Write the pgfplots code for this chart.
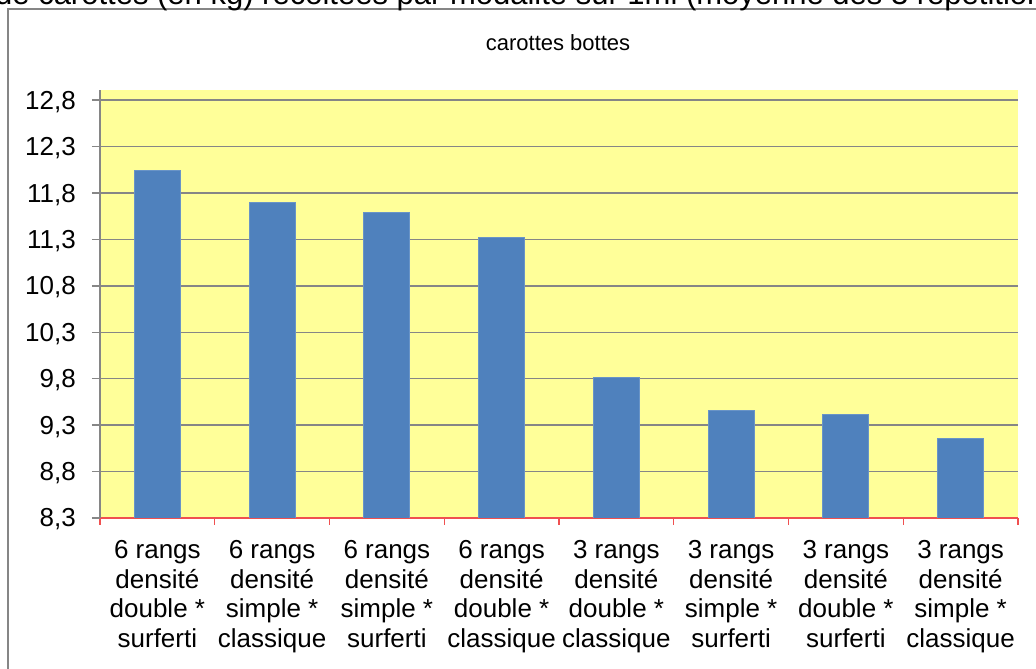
\documentclass[border=0pt]{standalone}
\usepackage{pgfplots}
\pgfplotsset{compat=1.18}
\usepackage{fontspec}
\setmainfont{Liberation Sans}
\definecolor{barblue}{RGB}{79,129,189}
\definecolor{bgyellow}{RGB}{255,255,153}
\definecolor{gridgray}{RGB}{134,134,134}
\definecolor{axred}{RGB}{240,80,80}
\begin{document}
\begin{tikzpicture}
\useasboundingbox (0,0) rectangle (1036bp,669bp);
\fill[white] (0,0) rectangle (1036bp,669bp);
% outer frame (partly cut)
\draw[gridgray, line width=2bp] (7.5bp,-5bp) -- (7.5bp,660bp) -- (1045bp,660bp);
% cut-off main title
\node[anchor=base west, inner sep=0pt, font=\fontsize{31bp}{36bp}\selectfont] at (-5bp,664bp)
  {de carottes (en kg) récoltées par modalité sur 1ml (moyenne des 3 répétitions)};
\node[anchor=base, inner sep=0pt, font=\fontsize{22bp}{26bp}\selectfont] at (558bp,618bp) {carottes bottes};
\begin{axis}[
  at={(100bp,151bp)}, anchor=south west,
  scale only axis, width=918bp, height=428bp,
  xmin=-0.5, xmax=7.5, ymin=8.3, ymax=12.91,
  enlargelimits=false,
  axis x line*=bottom, axis y line*=left,
  x axis line style={draw=axred, line width=1.5bp, -},
  y axis line style={draw=gridgray, line width=1.5bp, -},
  axis background/.style={fill=bgyellow},
  tick align=outside,
  major tick length=8bp, minor tick length=7bp,
  xtick={0,1,2,3,4,5,6,7},
  minor xtick={-0.5,0.5,1.5,2.5,3.5,4.5,5.5,6.5,7.5},
  major x tick style={draw=none},
  minor x tick style={draw=axred, line width=1.2bp},
  ytick={8.3,8.8,9.3,9.8,10.3,10.8,11.3,11.8,12.3,12.8},
  y tick style={draw=gridgray, line width=1.5bp},
  ymajorgrids, major grid style={draw=gridgray, line width=1.5bp},
  /pgf/number format/assume math mode=true,
  /pgf/number format/use comma, /pgf/number format/fixed,
  /pgf/number format/precision=1, /pgf/number format/fixed zerofill,
  yticklabel style={anchor=base east, inner sep=0pt, xshift=-16bp, yshift=-9bp,
    font=\fontsize{26bp}{30bp}\selectfont},
  xticklabels={{6 rangs\\densité\\double *\\surferti},
               {6 rangs\\densité\\simple *\\classique},
               {6 rangs\\densité\\simple *\\surferti},
               {6 rangs\\densité\\double *\\classique},
               {3 rangs\\densité\\double *\\classique},
               {3 rangs\\densité\\simple *\\surferti},
               {3 rangs\\densité\\double *\\surferti},
               {3 rangs\\densité\\simple *\\classique}},
  xticklabel style={anchor=north, align=center, inner sep=0pt, yshift=-14bp,
    font=\fontsize{26bp}{29.7bp}\selectfont},
  ybar, bar width=46bp, bar shift=0pt,
]
\addplot[fill=barblue, draw=barblue!85!white, line width=0.8bp] coordinates {
  (0,12.04) (1,11.70) (2,11.59) (3,11.32) (4,9.81) (5,9.46) (6,9.42) (7,9.16)};
\end{axis}
\end{tikzpicture}
\end{document}
